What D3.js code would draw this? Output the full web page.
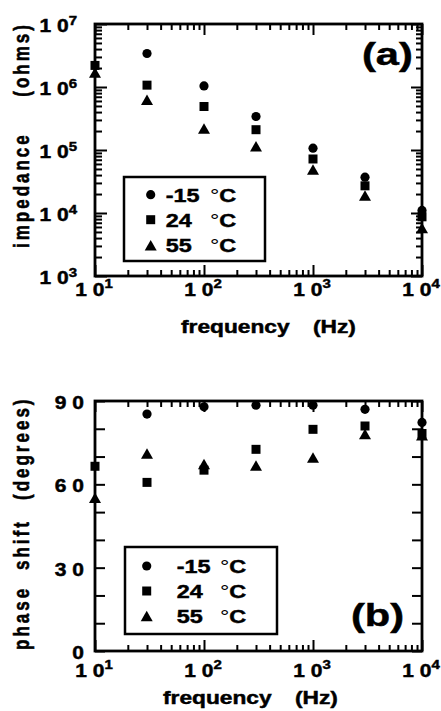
<!DOCTYPE html>
<html>
<head>
<meta charset="utf-8">
<script src="https://cdn.jsdelivr.net/npm/d3@7"></script>
<style>
  html, body { margin: 0; padding: 0; background: #fff; }
  svg { display: block; }
  text { font-family: "Liberation Sans", Arial, Helvetica, sans-serif; font-weight: bold; fill: #000;
         stroke: #000; stroke-width: 0.45px; paint-order: stroke; }
  tspan.thin { stroke-width: 0; }
</style>
</head>
<body>
<svg id="chart" width="441" height="711"></svg>
<script>
// ---------------- data ----------------
const frequencies = [10, 30, 100, 300, 1000, 3000, 10000];
const seriesNames = ["-15", "24", "55"];
const impedanceM15 = [null, 3.4e6, 1.04e6, 3.4e5, 1.07e5, 3.7e4, 1.1e4];
const impedance24  = [2.2e6, 1.07e6, 4.9e5, 2.1e5, 7.2e4, 2.7e4, 8.7e3];
const impedance55  = [1.7e6, 6.3e5, 2.2e5, 1.15e5, 4.9e4, 1.9e4, 5.8e3];
const phaseM15 = [null, 85.3, 87.9, 88.5, 88.5, 87.0, 82.3];
const phase24  = [66.5, 60.7, 65.1, 72.6, 79.8, 81.0, 78.3];
const phase55  = [55.2, 71.1, 67.3, 66.8, 69.7, 78.1, 77.7];
const xTickExps = [1, 2, 3, 4];
const yTickExpsA = [3, 4, 5, 6, 7];
const yTicksB = [0, 30, 60, 90];

// ---------------- helpers ----------------
const svg = d3.select("#chart");
const SX = 1.3;

function htext(x, y, anchor, size, parts, sx) {
  const g = svg.append("g").attr("transform", `translate(${x},${y}) scale(${sx || SX},1)`);
  const t = g.append("text").attr("text-anchor", anchor).attr("font-size", size);
  parts.forEach(p => {
    const s = t.append("tspan").text(p.t);
    if (p.dy) s.attr("dy", p.dy);
    if (p.size) s.attr("font-size", p.size);
    if (p.weight) s.attr("font-weight", p.weight).attr("class", "thin");
    if (p.x !== undefined) s.attr("x", p.x);
  });
  return t;
}
function vtext(x, y, size, parts) {
  const g = svg.append("g").attr("transform", `translate(${x},${y}) rotate(-90) scale(1,1.25)`);
  const t = g.append("text").attr("text-anchor", "start").attr("font-size", size).attr("letter-spacing", 3);
  parts.forEach(p => t.append("tspan").attr("x", p.x).text(p.t));
  return t;
}

const symCircle = d3.symbol().type(d3.symbolCircle).size(Math.PI * 4.6 * 4.6);
const symSquare = d3.symbol().type(d3.symbolSquare).size(9 * 9);
function triPath(w, h) { return `M0,${-h/2}L${w/2},${h/2}L${-w/2},${h/2}Z`; }
const shapes = [symCircle(), symSquare(), triPath(12, 10.5)];

function minorLogTicks(lo, hi) {
  const out = [];
  for (let e = lo; e < hi; e++) for (let m = 2; m <= 9; m++) out.push(m * Math.pow(10, e));
  return out;
}

function logXAxes(x, yTop, yBot) {
  const majors = xTickExps.map(e => Math.pow(10, e));
  const minors = minorLogTicks(1, 4);
  const mk = (gen, y, vals, len) => svg.append("g").attr("transform", `translate(0,${y})`)
    .call(gen(x).tickValues(vals).tickSize(len).tickSizeOuter(0).tickFormat(""))
    .call(g => g.select(".domain").remove())
    .call(g => g.selectAll("line").attr("stroke", "#000").attr("stroke-width", 2));
  mk(d3.axisBottom, yBot, majors, -11);
  mk(d3.axisBottom, yBot, minors, -6);
  mk(d3.axisTop, yTop, majors, -11);
  mk(d3.axisTop, yTop, minors, -6);
}

function frame(x0, x1, y0, y1) {
  svg.append("rect").attr("x", x0).attr("y", y0).attr("width", x1 - x0).attr("height", y1 - y0)
    .attr("fill", "none").attr("stroke", "#000").attr("stroke-width", 2.8);
}

function xLabels(x, baseline) {
  xTickExps.forEach(e => {
    htext(x(Math.pow(10, e)) - 1, baseline, "middle", 17.5,
      [{t: "1 0"}, {t: String(e), dy: -7.5, size: 12.5}], 1.2);
  });
}

function drawPoints(x, y, series) {
  series.forEach((vals, si) => {
    svg.append("g").selectAll("path")
      .data(frequencies.map((f, i) => ({f, v: vals[i]})).filter(d => d.v !== null))
      .join("path")
      .attr("d", shapes[si])
      .attr("transform", d => `translate(${x(d.f)},${y(d.v)})`)
      .attr("fill", "#000");
  });
}

function legend(bx0, bx1, by0, by1, markerX, textX, degX, baselines) {
  svg.append("rect").attr("x", bx0).attr("y", by0).attr("width", bx1 - bx0).attr("height", by1 - by0)
    .attr("fill", "#fff").attr("stroke", "#000").attr("stroke-width", 2.5);
  seriesNames.forEach((n, i) => {
    svg.append("path").attr("d", shapes[i]).attr("fill", "#000")
      .attr("transform", `translate(${markerX},${baselines[i] - 7})`);
    htext(textX, baselines[i], "start", 18, [{t: n}]);
    htext(degX, baselines[i], "start", 18, [{t: "°", weight: "normal"}, {t: "C"}]);
  });
}

// ---------------- panel (a) ----------------
const xA = d3.scaleLog().domain([10, 1e4]).range([95, 422]);
const yA = d3.scaleLog().domain([1e3, 1e7]).range([276, 24]);

(function () {
  const majors = yTickExpsA.map(e => Math.pow(10, e));
  const minors = minorLogTicks(3, 7);
  const mk = (gen, xx, vals, len) => svg.append("g").attr("transform", `translate(${xx},0)`)
    .call(gen(yA).tickValues(vals).tickSize(len).tickSizeOuter(0).tickFormat(""))
    .call(g => g.select(".domain").remove())
    .call(g => g.selectAll("line").attr("stroke", "#000").attr("stroke-width", 2));
  mk(d3.axisLeft, 95, majors, -12);
  mk(d3.axisLeft, 95, minors, -7);
  mk(d3.axisRight, 422, majors, -11);
  mk(d3.axisRight, 422, minors, -6);
})();
logXAxes(xA, 24, 276);
frame(95, 422, 24, 276);
yTickExpsA.forEach(e => {
  htext(77, yA(Math.pow(10, e)) + 8, "end", 17.5, [{t: "1 0"}, {t: String(e), dy: -7.5, size: 12.5}], 1.2);
});
xLabels(xA, 295.5);
htext(181, 333, "start", 17.5, [{t: "frequency"}, {t: "(Hz)", x: (313 - 181) / SX}]);
vtext(28.8, 248, 17, [{t: "impedance", x: 0}, {t: "(ohms)", x: 248 - 96.7}]);
drawPoints(xA, yA, [impedanceM15, impedance24, impedance55]);
legend(124, 265, 177, 261, 150.7, 165.7, 210, [201.7, 226.7, 252.3]);
htext(362, 65, "start", 32, [{t: "(a)"}]);

// ---------------- panel (b) ----------------
const xB = d3.scaleLog().domain([10, 1e4]).range([95, 422]);
const yB = d3.scaleLinear().domain([0, 90]).range([651, 401]);

(function () {
  const vals = d3.range(0, 91, 10);
  const mk = (gen, xx, len) => svg.append("g").attr("transform", `translate(${xx},0)`)
    .call(gen(yB).tickValues(vals).tickSize(len).tickSizeOuter(0).tickFormat(""))
    .call(g => g.select(".domain").remove())
    .call(g => g.selectAll("line").attr("stroke", "#000").attr("stroke-width", 2));
  mk(d3.axisLeft, 95, -10);
  mk(d3.axisRight, 422, -10);
})();
logXAxes(xB, 401, 651);
frame(95, 422, 401, 651);
yTicksB.forEach(v => {
  const s = v === 0 ? "0" : String(v).split("").join(" ");
  htext(84, yB(v) + 8, "end", 17.5, [{t: s}], 1.2);
});
xLabels(xB, 676.5);
htext(163, 704, "start", 17.5, [{t: "frequency"}, {t: "(Hz)", x: (295 - 163) / SX}]);
vtext(28.8, 650, 17, [{t: "phase", x: 0}, {t: "shift", x: 650 - 570}, {t: "(degrees)", x: 650 - 500}]);
drawPoints(xB, yB, [phaseM15, phase24, phase55]);
legend(125, 277, 547, 634, 146.7, 176.7, 220, [573, 598, 623]);
htext(351, 626, "start", 32, [{t: "(b)"}]);
</script>
</body>
</html>
